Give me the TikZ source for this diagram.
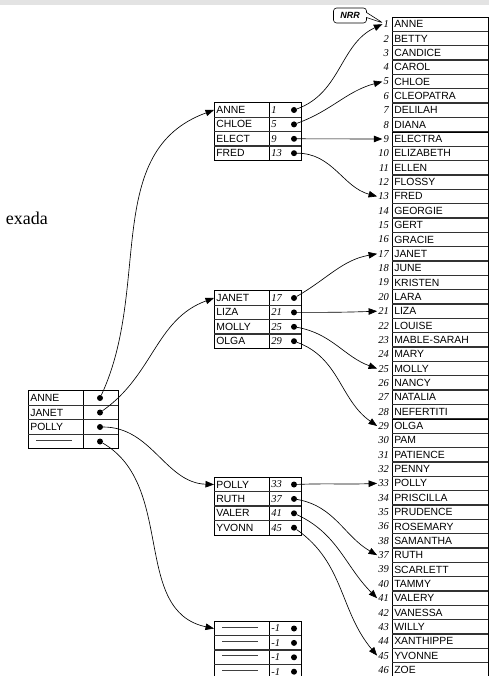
\documentclass[tikz,border=0pt]{standalone}
\usepackage{fontspec}
\setmainfont{Liberation Serif}
\newfontfamily\arialf{Liberation Sans}
\usetikzlibrary{arrows.meta,shapes.callouts}
\newcommand\dline{\hspace*{6pt}\textcolor{black!75}{\rule[3pt]{36pt}{.9pt}}}
\newcommand\mkbox[3]{%
  \foreach \nm/\nb [count=\i] in {#3} {
    \pgfmathsetmacro\yy{#2+(\i-1)*14.4}
    \node[ncell] (#1\i) at (214,\yy) {\nm};
    \node[vcell] (#1n\i) at (269,\yy) {\nb};
    \node[dotn] (#1d\i) at (294,\yy) {};
  }
  \foreach \i in {1,2,3} {
    \pgfmathsetmacro\yy{#2+(\i-0.5)*14.4}
    \draw[sep] (214,\yy) -- (301,\yy);
  }
}
\begin{document}
\begin{tikzpicture}[x=1pt,y=-1pt,
  namefont/.style={font=\arialf\fontsize{10.4}{11}\selectfont},
  ncell/.style={draw,line width=.7pt,minimum height=14.4pt,text width=51pt,inner xsep=2pt,inner ysep=0pt,align=left,anchor=west,namefont},
  vcell/.style={draw,line width=.7pt,minimum height=14.4pt,text width=28pt,inner xsep=2pt,inner ysep=0pt,align=left,anchor=west,font=\itshape\fontsize{10.5}{11}\selectfont},
  lcell/.style={draw,line width=.6pt,minimum height=14.35pt,text width=92pt,inner xsep=2pt,inner ysep=0pt,align=left,anchor=west,namefont},
  lnum/.style={anchor=east,inner sep=1pt,font=\itshape\fontsize{10.5}{11}\selectfont},
  dotn/.style={circle,fill=black,inner sep=0pt,minimum size=6pt},
  sep/.style={line width=1.3pt,black!80},
  arr/.style={-{Triangle[length=8.5pt,width=6.5pt]},line width=.65pt,black}
]
\useasboundingbox (0,0) rectangle (489,676);
\fill[gray!22] (0,0) rectangle (489,5);

% fragment of text
\node[anchor=base east,inner sep=0pt,font=\fontsize{18}{20}\selectfont] (frag) at (48,224) {exada};

% main list
\foreach \lab/\nm [count=\k] in {1/ANNE,2/BETTY,3/CANDICE,4/CAROL,5/CHLOE,6/CLEOPATRA,7/DELILAH,8/DIANA,9/ELECTRA,10/ELIZABETH,11/ELLEN,12/FLOSSY,13/FRED,14/GEORGIE,15/GERT,16/GRACIE,17/JANET,18/JUNE,19/KRISTEN,20/LARA,21/LIZA,22/LOUISE,23/MABLE-SARAH,24/MARY,25/MOLLY,26/NANCY,27/NATALIA,28/NEFERTITI,29/OLGA,30/PAM,31/PATIENCE,32/PENNY,33/POLLY,34/PRISCILLA,35/PRUDENCE,36/ROSEMARY,38/SAMANTHA,37/RUTH,39/SCARLETT,40/TAMMY,41/VALERY,42/VANESSA,43/WILLY,44/XANTHIPPE,45/YVONNE,46/ZOE} {
  \pgfmathsetmacro\yy{24.2+(\k-1)*14.35}
  \node[lcell] (L\lab) at (392,\yy) {\nm};
  \node[lnum] (n\lab) at (390,\yy) {\lab};
}
\foreach \k in {1,...,45} {
  \pgfmathsetmacro\yy{17.025+\k*14.35}
  \draw[sep] (392,\yy) -- (488,\yy);
}

% NRR callout
\node[rectangle callout,draw,line width=.6pt,rounded corners=3pt,fill=white,
      callout absolute pointer={(383,23)},callout pointer width=5pt,
      minimum width=33pt,minimum height=15pt,inner sep=1pt,
      font=\arialf\bfseries\itshape\fontsize{9}{10}\selectfont] (nrr) at (350,15.5) {NRR};

% second-level boxes
\mkbox{A}{110}{ANNE/1,CHLOE/5,ELECT/9,FRED/13}
\mkbox{B}{298}{JANET/17,LIZA/21,MOLLY/25,OLGA/29}
\mkbox{C}{484.5}{POLLY/33,RUTH/37,VALER/41,YVONN/45}
\mkbox{D}{628.5}{\dline/-1,\dline/-1,\dline/-1,\dline/-1}

% root box
\foreach \nm [count=\i] in {ANNE,JANET,POLLY,\dline} {
  \pgfmathsetmacro\yy{398+(\i-1)*14.5}
  \node[ncell,text width=51pt] (R\i) at (28,\yy) {\nm};
  \node[ncell,text width=31pt] (Rn\i) at (83,\yy) {};
  \node[dotn] (Rd\i) at (100,\yy) {};
}
\foreach \i in {1,2,3} {
  \pgfmathsetmacro\yy{398+(\i-0.5)*14.5}
  \draw[sep] (28,\yy) -- (118,\yy);
}

% root arrows
\draw[arr] (Rd1) to[out=65,in=200] (A1.west);
\draw[arr] (Rd2) to[out=35,in=200] (B1.west);
\draw[arr] (Rd3) to[out=0,in=178] (C1.west);
\draw[arr] (Rd4) to[out=-30,in=168] (D1.west);

% box A arrows
\draw[arr] (Ad1) to[out=20,in=205] (n1.west);
\draw[arr] (Ad2) to[out=20,in=195] (n5.west);
\draw[arr] (Ad3) -- (n9.west);
\draw[arr] (Ad4) to[out=0,in=165] (n13.west);
% box B arrows
\draw[arr] (Bd1) to[out=30,in=190] (n17.west);
\draw[arr] (Bd2) to[out=0,in=182] (n21.west);
\draw[arr] (Bd3) to[out=-10,in=160] (n25.west);
\draw[arr] (Bd4) to[out=-20,in=145] (n29.west);
% box C arrows
\draw[arr] (Cd1) to[out=2,in=182] (n33.west);
\draw[arr] (Cd2) to[out=-10,in=150] (n37.west);
\draw[arr] (Cd3) to[out=-25,in=135] (n41.west);
\draw[arr] (Cd4) to[out=-35,in=130] (n45.west);
\end{tikzpicture}
\end{document}
